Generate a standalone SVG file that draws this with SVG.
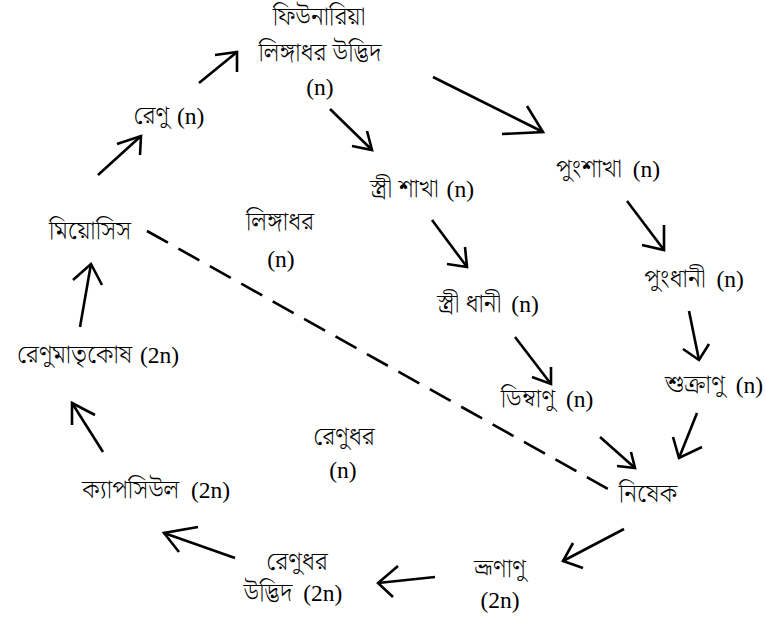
<svg xmlns="http://www.w3.org/2000/svg" width="766" height="625" viewBox="0 0 766 625">
<style>
text{font-family:"Liberation Serif","Noto Serif Bengali","Noto Sans Bengali",serif;font-size:23.5px;fill:#000;text-anchor:middle}
.b{font-size:25px;font-weight:300}
.c line,.c polyline{stroke:#000;stroke-width:2.6;fill:none;stroke-linecap:butt;stroke-linejoin:miter}
.d{stroke-dasharray:24 12}
</style>
<rect width="766" height="625" fill="#fff"/>
<g id="n_gametophyte"><text x="319" y="25" class="b">ফিউনারিয়া</text><text x="320" y="61" class="b">লিঙ্গাধর উদ্ভিদ</text><text x="320" y="95">(n)</text></g>
<g id="n_spore"><text x="169" y="124"><tspan class="b">রেণু</tspan> <tspan dx="2">(n)</tspan></text></g>
<g id="n_meiosis"><text x="90" y="239" class="b">মিয়োসিস</text></g>
<g id="n_sporemother"><text x="98" y="363"><tspan class="b">রেণুমাতৃকোষ</tspan> <tspan dx="2">(2n)</tspan></text></g>
<g id="n_capsule"><text x="156" y="498"><tspan class="b">ক্যাপসিউল</tspan> <tspan dx="6">(2n)</tspan></text></g>
<g id="n_sporophyte"><text x="297" y="570" class="b">রেণুধর</text><text x="293" y="601"><tspan class="b">উদ্ভিদ</tspan> <tspan dx="5">(2n)</tspan></text></g>
<g id="n_embryo"><text x="500" y="577" class="b">ভ্রূণাণু</text><text x="500" y="608">(2n)</text></g>
<g id="n_fertilization"><text x="648" y="502" class="b">নিষেক</text></g>
<g id="n_archegoniophore"><text x="422" y="197"><tspan class="b">স্ত্রী শাখা</tspan> <tspan dx="2">(n)</tspan></text></g>
<g id="n_antheridiophore"><text x="608" y="177"><tspan class="b">পুংশাখা</tspan> <tspan dx="5">(n)</tspan></text></g>
<g id="n_gameto_label"><text x="280" y="230" class="b">লিঙ্গাধর</text><text x="281" y="267">(n)</text></g>
<g id="n_archegonium"><text x="488" y="312"><tspan class="b">স্ত্রী ধানী</tspan> <tspan dx="4">(n)</tspan></text></g>
<g id="n_antheridium"><text x="694" y="287"><tspan class="b">পুংধানী</tspan> <tspan dx="5">(n)</tspan></text></g>
<g id="n_egg"><text x="547" y="407"><tspan class="b">ডিম্বাণু</tspan> <tspan dx="5">(n)</tspan></text></g>
<g id="n_sperm"><text x="714" y="393"><tspan class="b">শুক্রাণু</tspan> <tspan dx="5">(n)</tspan></text></g>
<g id="n_sporo_label"><text x="344" y="445" class="b">রেণুধর</text><text x="343" y="478">(n)</text></g>
<g id="connectors" class="c">
<line x1="98" y1="175" x2="141" y2="136"/><polyline points="117,144 141,136 140,155"/>
<line x1="199" y1="83" x2="237" y2="52"/><polyline points="215,55 237,52 237,72"/>
<line x1="330" y1="109" x2="372" y2="150"/><polyline points="352,146 372,150 367,131"/>
<line x1="433" y1="77" x2="543" y2="132"/><polyline points="502,134 543,132 527,106"/>
<line x1="432" y1="220" x2="467" y2="267"/><polyline points="447,264 467,267 465,247"/>
<line x1="627" y1="201" x2="664" y2="250"/><polyline points="642,245 664,250 664,225"/>
<line x1="689" y1="311" x2="699" y2="360"/><polyline points="683,349 699,360 709,344"/>
<line x1="515" y1="337" x2="551" y2="384"/><polyline points="532,377 551,384 551,367"/>
<line x1="600" y1="437" x2="635" y2="468"/><polyline points="617,466 635,468 631,452"/>
<line x1="697" y1="413" x2="679" y2="458"/><polyline points="673,437 679,458 702,447"/>
<line x1="624" y1="529" x2="563" y2="561"/><polyline points="573,543 563,561 583,568"/>
<line x1="435" y1="577" x2="378" y2="583"/><polyline points="398,566 378,583 393,597"/>
<line x1="235" y1="558" x2="164" y2="533"/><polyline points="198,527 164,533 179,552"/>
<line x1="103" y1="452" x2="72" y2="403"/><polyline points="72,425 72,403 95,415"/>
<line x1="80" y1="327" x2="91" y2="264"/><polyline points="73,280 91,264 102,285"/>
<line class="d" x1="147" y1="231" x2="610" y2="490"/>
</g>
</svg>
